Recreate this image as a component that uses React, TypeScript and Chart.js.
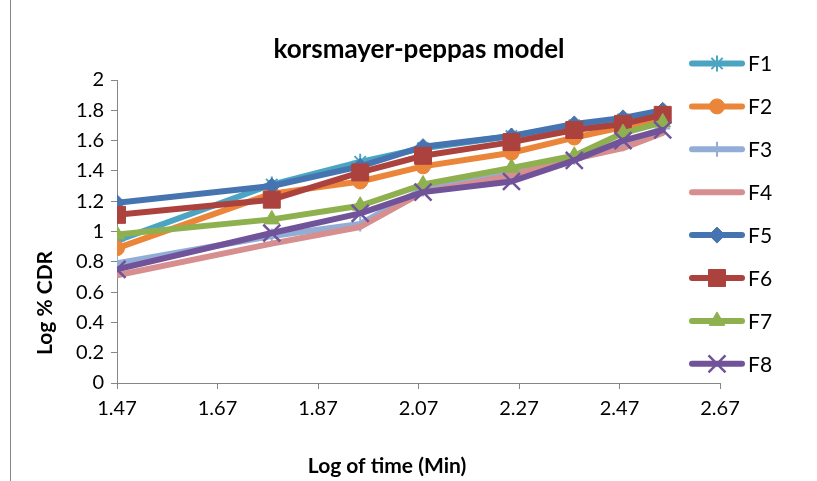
import React, { useEffect, useRef } from 'react';
import { Chart, registerables } from 'chart.js';
import { drawPoint } from 'chart.js/helpers';

Chart.register(...registerables);

// ---- data ----
const xValues = [1.47, 1.778, 1.954, 2.079, 2.255, 2.38, 2.477, 2.556];
const seriesNames = ['F1', 'F2', 'F3', 'F4', 'F5', 'F6', 'F7', 'F8'];
const f1 = [0.94, 1.31, 1.46, 1.55, 1.63, 1.7, 1.74, 1.78];
const f2 = [0.89, 1.25, 1.33, 1.43, 1.52, 1.62, 1.69, 1.75];
const f3 = [0.79, 0.97, 1.05, 1.28, 1.39, 1.49, 1.58, 1.68];
const f4 = [0.71, 0.92, 1.03, 1.26, 1.37, 1.48, 1.55, 1.65];
const f5 = [1.19, 1.3, 1.43, 1.56, 1.63, 1.71, 1.75, 1.8];
const f6 = [1.11, 1.21, 1.39, 1.5, 1.59, 1.67, 1.71, 1.77];
const f7 = [0.98, 1.08, 1.17, 1.31, 1.42, 1.5, 1.65, 1.72];
const f8 = [0.75, 0.99, 1.12, 1.26, 1.33, 1.47, 1.6, 1.67];
const seriesValues = [f1, f2, f3, f4, f5, f6, f7, f8];
const xTicks = [1.47, 1.67, 1.87, 2.07, 2.27, 2.47, 2.67];
const yTicks = [0, 0.2, 0.4, 0.6, 0.8, 1, 1.2, 1.4, 1.6, 1.8, 2];
const chartTitle = 'korsmayer-peppas model';
const xTitle = 'Log of time (Min)';
const yTitle = 'Log % CDR';

// ---- styles ----
const seriesColors = ['#4BA5C2', '#EA8539', '#92AED6', '#D68F8E', '#4674B0', '#AC423E', '#8FB04F', '#71539A'];
const seriesMarkers: (string | false)[] = ['star', 'circle', 'cross', false, 'rectRot', 'rect', 'triangle', 'crossRot'];
const markerRadius = [8, 7.5, 7.5, 0, 8, 12, 9, 12];
const markerBorder = [2, 1, 2, 0, 1, 1, 1, 2.5];
const FONT = 'Lato, "Open Sans", sans-serif';
const AXIS_COLOR = '#868686';

const decorPlugin = {
  id: 'decor',
  beforeDraw(chart: any) {
    const ctx = chart.ctx;
    ctx.save();
    ctx.fillStyle = '#ffffff';
    ctx.fillRect(0, 0, chart.width, chart.height);
    ctx.strokeStyle = AXIS_COLOR;
    ctx.lineWidth = 1;
    ctx.beginPath();
    ctx.moveTo(10.5, 0);
    ctx.lineTo(10.5, chart.height);
    ctx.stroke();
    ctx.restore();
  },
  afterDraw(chart: any) {
    const ctx = chart.ctx;
    ctx.save();
    ctx.fillStyle = '#000000';
    ctx.textAlign = 'center';
    ctx.textBaseline = 'middle';
    ctx.font = `bold 26px ${FONT}`;
    ctx.fillText(chartTitle, 419, 50);
    ctx.font = `bold 21px ${FONT}`;
    ctx.fillText(xTitle, 387, 466);
    ctx.save();
    ctx.translate(45, 303);
    ctx.rotate(-Math.PI / 2);
    ctx.fillText(yTitle, 0, 0);
    ctx.restore();

    // legend
    chart.data.datasets.forEach((ds: any, i: number) => {
      const y = 63.5 + i * 42.9;
      ctx.strokeStyle = ds.borderColor;
      ctx.lineWidth = ds.borderWidth;
      ctx.lineCap = 'round';
      ctx.beginPath();
      ctx.moveTo(692, y);
      ctx.lineTo(742, y);
      ctx.stroke();
      if (ds.pointStyle && ds.pointRadius > 0) {
        ctx.fillStyle = ds.pointBackgroundColor;
        ctx.strokeStyle = ds.pointBorderColor;
        ctx.lineWidth = ds.pointBorderWidth;
        ctx.lineCap = 'butt';
        drawPoint(ctx, { pointStyle: ds.pointStyle, radius: ds.pointRadius, borderWidth: ds.pointBorderWidth, rotation: 0 }, 717, y);
      }
      ctx.fillStyle = '#000000';
      ctx.textAlign = 'left';
      ctx.font = `21px ${FONT}`;
      ctx.fillText(ds.label, 748, y + 1);
    });
    ctx.restore();
  },
};

export default function App() {
  const ref = useRef<HTMLCanvasElement | null>(null);
  useEffect(() => {
    if (!ref.current) return;
    const datasets = seriesNames.map((name, i) => ({
      label: name,
      data: xValues.map((x, j) => ({ x, y: seriesValues[i][j] })),
      borderColor: seriesColors[i],
      backgroundColor: seriesColors[i],
      borderWidth: 6,
      borderJoinStyle: 'round' as const,
      borderCapStyle: 'round' as const,
      pointStyle: seriesMarkers[i],
      pointRadius: markerRadius[i],
      pointHoverRadius: markerRadius[i],
      pointBackgroundColor: seriesColors[i],
      pointBorderColor: seriesColors[i],
      pointBorderWidth: markerBorder[i],
      tension: 0,
      fill: false,
      order: seriesNames.length - i,
    }));
    const tickFont = { family: FONT, size: 20 };
    const chart = new Chart(ref.current, {
      type: 'line',
      data: { datasets },
      plugins: [decorPlugin],
      options: {
        animation: false,
        responsive: false,
        devicePixelRatio: 1,
        layout: { padding: { top: 80, right: 97, bottom: 0, left: 0 } },
        plugins: { legend: { display: false }, title: { display: false }, tooltip: { enabled: false } },
        scales: {
          x: {
            type: 'linear',
            min: 1.47,
            max: 2.67,
            afterBuildTicks: (s: any) => { s.ticks = xTicks.map((v) => ({ value: v })); },
            afterFit: (s: any) => { s.height = 98; },
            ticks: { font: tickFont, color: '#000', padding: 8, maxRotation: 0, autoSkip: false, callback: (v: any) => Number(v).toFixed(2) },
            grid: { drawOnChartArea: false, drawTicks: true, tickLength: 6, color: AXIS_COLOR },
            border: { color: AXIS_COLOR, width: 1 },
          },
          y: {
            type: 'linear',
            min: 0,
            max: 2,
            afterBuildTicks: (s: any) => { s.ticks = yTicks.map((v) => ({ value: v })); },
            afterFit: (s: any) => { s.width = 117; },
            ticks: { font: tickFont, color: '#000', padding: 7, autoSkip: false, callback: (v: any) => String(Number(Number(v).toFixed(1))) },
            grid: { drawOnChartArea: false, drawTicks: true, tickLength: 6, color: AXIS_COLOR },
            border: { color: AXIS_COLOR, width: 1 },
          },
        },
      },
    });
    return () => chart.destroy();
  }, []);
  return (
    <div style={{ position: 'fixed', left: 0, top: 0, width: 817, height: 481, background: '#fff' }}>
      <canvas ref={ref} width={817} height={481} style={{ display: 'block' }} />
    </div>
  );
}
